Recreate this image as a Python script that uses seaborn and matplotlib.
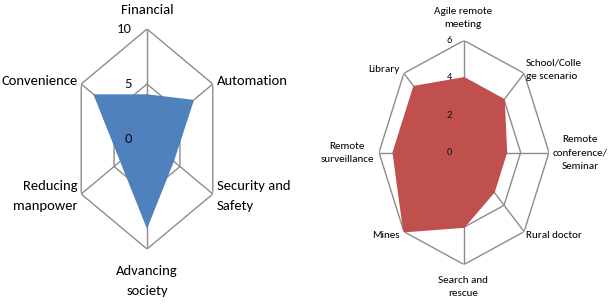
import numpy as np
import matplotlib
matplotlib.use("Agg")
import matplotlib.pyplot as plt
import matplotlib.transforms as mtransforms
import seaborn as sns

# ---------------- data ----------------
left_categories = ["Financial", "Automation", "Security and\nSafety", "Advancing\nsociety",
                   "Reducing\nmanpower", "Convenience"]
left_values = [4, 7, 4, 8, 4, 8]
left_ticks = [0, 5, 10]

right_categories = ["Agile remote\nmeeting", "School/Colle\nge scenario", "Remote\nconference/\nSeminar",
                    "Rural doctor", "Search and\nrescue", "Mines", "Remote\nsurveillance", "Library"]
right_values = [4, 4, 3, 3, 4, 6, 5, 5]
right_ticks = [0, 2, 4, 6]

sns.set_style("white")
plt.rcParams["font.family"] = ["Carlito", "DejaVu Sans"]

W, H = 610, 304
fig = plt.figure(figsize=(W / 100, H / 100), dpi=100)


def px_axes(cx, cy, rx, ry):
    return [(cx - rx) / W, (H - cy - ry) / H, 2 * rx / W, 2 * ry / H]


def radar(rect, cats, vals, ticks, color, tick_fs, tick_dx):
    ax = fig.add_axes(rect, projection="polar")
    ax.set_aspect("auto")
    ax.set_theta_zero_location("N")
    ax.set_theta_direction(-1)
    n = len(cats)
    theta = np.linspace(0, 2 * np.pi, n, endpoint=False)
    vmax = ticks[-1]
    ax.set_ylim(0, vmax)
    ax.grid(False)
    ax.spines["polar"].set_visible(False)
    ax.set_xticks([])
    ax.set_yticks([])
    ax.patch.set_alpha(0)
    tc = np.append(theta, theta[0])
    # polygon gridlines
    for t in ticks[1:]:
        ax.plot(tc, [t] * (n + 1), color="#8c8c8c", lw=1.0, zorder=1)
    # spokes
    for th in theta:
        ax.plot([th, th], [0, vmax], color="#8c8c8c", lw=1.0, zorder=1)
    # data
    vc = np.append(vals, vals[0])
    ax.fill(tc, vc, color=color, zorder=2, lw=0)
    sns.lineplot(x=tc, y=vc, sort=False, color=color, lw=1, ax=ax, zorder=3, estimator=None)
    ax.set_xlabel("")
    ax.set_ylabel("")
    # tick labels
    off = mtransforms.ScaledTranslation(tick_dx / 100, 0, fig.dpi_scale_trans)
    for t in ticks:
        ax.text(0, t, str(t), transform=ax.transData + off, ha="right", va="center",
                fontsize=tick_fs, color="#111122", zorder=4)
    return ax


radar(px_axes(147, 139, 76, 110), left_categories, left_values, left_ticks,
      "#4f81bd", 10.5, -15)
radar(px_axes(464, 152.5, 85, 112), right_categories, right_values, right_ticks,
      "#c0504d", 7.5, -12)

# category labels (layout anchors in pixels)
left_label_layout = [(147, 10, "center"), (217, 81, "left"), (217, 196, "left"),
                     (147, 281, "center"), (78, 196, "right"), (78, 81, "right")]
right_label_layout = [(463, 18, "center"), (526, 70, "left"), (580, 153, "center"),
                      (526, 235, "left"), (463, 287, "center"), (400, 235, "right"),
                      (347, 153, "center"), (400, 70, "right")]

for (x, y, ha), lab in zip(left_label_layout, left_categories):
    fig.text(x / W, 1 - y / H, lab, ha=ha, va="center", fontsize=10.5,
             linespacing=1.75, color="black", multialignment="center" if ha == "center" else ha)
for (x, y, ha), lab in zip(right_label_layout, right_categories):
    fig.text(x / W, 1 - y / H, lab, ha=ha, va="center", fontsize=8,
             linespacing=1.6, color="black", multialignment="center" if ha == "center" else ha)

fig.savefig("out.png", dpi=100)
